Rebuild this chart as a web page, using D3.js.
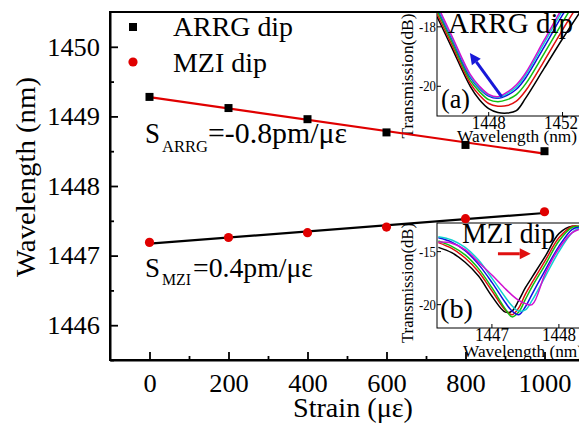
<!DOCTYPE html>
<html>
<head>
<meta charset="utf-8">
<script src="https://cdn.jsdelivr.net/npm/d3@7"></script>
</head>
<body style="margin:0;padding:0;background:#fff">
<svg id="chart" width="579" height="423" style="display:block"></svg>
<script>
// ---------- main data ----------
const strain = [0, 200, 400, 600, 800, 1000];
const arrgDip = [1449.28, 1449.12, 1448.96, 1448.77, 1448.59, 1448.50];
const mziDip  = [1447.19, 1447.26, 1447.33, 1447.41, 1447.53, 1447.63];
const xTickValues = [0, 200, 400, 600, 800, 1000];
const xMinorValues = [100, 300, 500, 700, 900];
const yTickValues = [1446, 1447, 1448, 1449, 1450];
const yMinorValues = [1445.5, 1446.5, 1447.5, 1448.5, 1449.5];
const seriesNames = ["ARRG dip", "MZI dip"];

// ---------- inset (a): ARRG dip spectra ----------
const waveA = [1445.2, 1446, 1447, 1447.5, 1448, 1448.5, 1449, 1449.5, 1450, 1451, 1452, 1453];
const arrgBlack   = [-17.65, -18.7, -20.0, -20.45, -20.75, -20.88, -20.9, -20.82, -20.4, -19.4, -18.4, -17.45];
const arrgRed     = [-17.55, -18.6, -19.9, -20.3, -20.58, -20.67, -20.65, -20.5, -20.15, -19.15, -18.1, -17.1];
const arrgGreen   = [-17.45, -18.5, -19.8, -20.18, -20.45, -20.52, -20.45, -20.28, -19.92, -18.9, -17.85, -16.8];
const arrgBlue    = [-17.35, -18.4, -19.7, -20.08, -20.33, -20.4, -20.3, -20.1, -19.72, -18.68, -17.6, -16.6];
const arrgCyan    = [-17.3, -18.35, -19.65, -20.05, -20.3, -20.38, -20.25, -20.02, -19.62, -18.55, -17.45, -16.4];
const arrgMagenta = [-17.25, -18.3, -19.6, -20.0, -20.27, -20.35, -20.2, -19.95, -19.55, -18.45, -17.35, -16.3];
const insetAXTicks = [1448, 1452];
const insetAYTicks = [-18, -20];

// ---------- inset (b): MZI dip spectra ----------
const waveB = [1446.2, 1446.4, 1446.6, 1446.8, 1447.0, 1447.2, 1447.3, 1447.4, 1447.5, 1447.6, 1447.8, 1448.0, 1448.2, 1448.3];
const mziBlack   = [-14.6, -15.1, -16.0, -17.3, -19.2, -20.7, -20.6, -19.6, -18.4, -17.4, -15.4, -13.3, -12.6, -12.8];
const mziRed     = [-14.15, -14.7, -15.6, -16.9, -18.7, -20.5, -20.95, -20.3, -19.0, -17.9, -15.8, -13.7, -12.6, -12.6];
const mziGreen   = [-14.0, -14.5, -15.3, -16.6, -18.4, -20.4, -21.15, -20.7, -19.5, -18.3, -16.2, -14.0, -12.7, -12.6];
const mziBlue    = [-13.7, -14.1, -14.9, -16.2, -17.9, -19.8, -20.6, -20.95, -20.2, -19.0, -16.7, -14.5, -12.9, -12.7];
const mziCyan    = [-13.6, -13.9, -14.6, -15.8, -17.5, -19.3, -20.1, -20.6, -20.5, -19.6, -17.3, -15.0, -13.2, -12.8];
const mziMagenta = [-14.1, -14.2, -14.8, -16.0, -17.2, -18.5, -19.1, -19.6, -19.9, -20.0, -17.0, -14.7, -13.2, -12.9];
const insetBXTicks = [1447, 1448];
const insetBYTicks = [-15, -20];

const curveColors = ["#000000", "#e01010", "#10c010", "#1010e0", "#10d0d0", "#d010d0"];
const FONT = '"Liberation Serif", "Times New Roman", Tinos';

// ---------- setup ----------
const svg = d3.select("#chart").style("font-family", FONT);
const margin = { left: 110, top: 12, right: 584, bottom: 360 };
const x = d3.scaleLinear().domain([-100, 1100]).range([margin.left, margin.right]);
const y = d3.scaleLinear().domain([1445.5, 1450.5]).range([margin.bottom, margin.top]);

function txt(parent, tx, ty, str, size, len, anchor) {
  const t = parent.append("text").attr("x", tx).attr("y", ty)
    .style("font-family", FONT).attr("font-size", size).attr("fill", "#000").text(str);
  if (anchor) t.attr("text-anchor", anchor);
  if (len) t.attr("textLength", len).attr("lengthAdjust", "spacingAndGlyphs");
  return t;
}

// ---------- insets ----------
function drawInset(cfg) {
  const g = svg.append("g");
  const ix = d3.scaleLinear().domain(cfg.xDomain).range([cfg.x0, cfg.x1]);
  const iy = d3.scaleLinear().domain(cfg.yDomain).range([cfg.y1, cfg.y0]);
  const clipId = "clip-" + cfg.id;
  svg.append("clipPath").attr("id", clipId)
    .append("rect").attr("x", cfg.x0).attr("y", cfg.y0)
    .attr("width", cfg.x1 - cfg.x0).attr("height", cfg.y1 - cfg.y0);
  g.append("rect").attr("x", cfg.x0).attr("y", cfg.y0)
    .attr("width", cfg.x1 - cfg.x0 + 10).attr("height", cfg.y1 - cfg.y0)
    .attr("fill", "#fff").attr("stroke", "#000").attr("stroke-width", 1);

  const line = d3.line().x(d => ix(d[0])).y(d => iy(d[1])).curve(d3.curveCatmullRom.alpha(0.5));
  const cg = g.append("g").attr("clip-path", `url(#${clipId})`);
  cfg.series.forEach((vals, i) => {
    cg.append("path")
      .datum(cfg.wave.map((w, j) => [w, vals[j]]))
      .attr("d", line).attr("fill", "none")
      .attr("stroke", curveColors[i]).attr("stroke-width", 1.5);
  });

  cfg.xTicks.forEach(t => {
    g.append("line").attr("x1", ix(t)).attr("x2", ix(t)).attr("y1", cfg.y1).attr("y2", cfg.y1 - 4)
      .attr("stroke", "#000").attr("stroke-width", 1);
    txt(g, Math.min(ix(t), 561), cfg.y1 + 13, t, 18, 34, "middle");
  });
  cfg.yTicks.forEach(t => {
    g.append("line").attr("x1", cfg.x0).attr("x2", cfg.x0 + 4).attr("y1", iy(t)).attr("y2", iy(t))
      .attr("stroke", "#000").attr("stroke-width", 1);
    txt(g, cfg.x0 - 1, iy(t) + 5, t, 15, 17, "end");
  });
  txt(g, cfg.xLabelX, cfg.xLabelY, "Wavelength (nm)", 17.5, 120);
  txt(g, 0, 0, "Transmission(dB)", 17.5, cfg.yLabelLen, "middle")
    .attr("transform", `translate(${cfg.yLabelX},${cfg.yLabelY}) rotate(-90)`);
  txt(g, cfg.titleX, cfg.titleY, cfg.title, 28.5, cfg.titleLen);
  txt(g, cfg.tagX, cfg.tagY, cfg.tag, 27, cfg.tagLen);

  const a = cfg.arrow;
  const x1 = ix(a.from[0]), y1 = iy(a.from[1]), x2 = ix(a.to[0]), y2 = iy(a.to[1]);
  const ang = Math.atan2(y2 - y1, x2 - x1);
  const hl = 11, hw = 5.5;
  const bx = x2 - hl * Math.cos(ang), by = y2 - hl * Math.sin(ang);
  g.append("line").attr("x1", x1).attr("y1", y1).attr("x2", bx).attr("y2", by)
    .attr("stroke", a.color).attr("stroke-width", 3);
  g.append("path").attr("d", `M${x2},${y2} L${bx - hw * Math.sin(ang)},${by + hw * Math.cos(ang)} L${bx + hw * Math.sin(ang)},${by - hw * Math.cos(ang)} Z`)
    .attr("fill", a.color);
}

drawInset({
  id: "a", x0: 437, x1: 581, y0: 12, y1: 116,
  xDomain: [1445.2, 1453], yDomain: [-21, -17.5],
  wave: waveA, series: [arrgBlack, arrgRed, arrgGreen, arrgBlue, arrgCyan, arrgMagenta],
  xTicks: insetAXTicks, yTicks: insetAYTicks,
  xLabelX: 457, xLabelY: 142, yLabelX: 413, yLabelY: 76, yLabelLen: 125,
  title: "ARRG dip", titleX: 448, titleY: 33, titleLen: 125,
  tag: "(a)", tagX: 441, tagY: 108, tagLen: 29,
  arrow: { from: [1448.71, -20.36], to: [1446.98, -18.88], color: "#1818d8" }
});

drawInset({
  id: "b", x0: 437, x1: 581, y0: 223, y1: 328,
  xDomain: [1446.18, 1448.33], yDomain: [-22.2, -12.3],
  wave: waveB, series: [mziBlack, mziRed, mziGreen, mziBlue, mziCyan, mziMagenta],
  xTicks: insetBXTicks, yTicks: insetBYTicks,
  xLabelX: 463, xLabelY: 357, yLabelX: 413, yLabelY: 283, yLabelLen: 120,
  title: "MZI dip", titleX: 462, titleY: 243, titleLen: 93,
  tag: "(b)", tagX: 440, tagY: 318, tagLen: 33,
  arrow: { from: [1447.09, -15.2], to: [1447.58, -15.2], color: "#e01010" }
});

// ---------- main axes ----------
svg.append("rect").attr("x", margin.left).attr("y", margin.top)
  .attr("width", margin.right - margin.left).attr("height", margin.bottom - margin.top)
  .attr("fill", "none").attr("stroke", "#000").attr("stroke-width", 2);

function styleAxis(g) {
  g.attr("font-family", null).style("font-family", FONT);
  g.selectAll("path.domain").attr("stroke-width", 2);
  g.selectAll(".tick line").attr("stroke-width", 1.8);
  g.selectAll("text").style("font-family", FONT).attr("font-size", 26).attr("fill", "#000")
    .attr("lengthAdjust", "spacingAndGlyphs")
    .attr("textLength", d => String(d).length * 13.2);
}

const xAxisG = svg.append("g").attr("transform", `translate(0,${margin.bottom})`)
  .call(d3.axisBottom(x).tickValues(xTickValues).tickSizeInner(-8).tickSizeOuter(0).tickPadding(10).tickFormat(d3.format("d")));
styleAxis(xAxisG);
xAxisG.selectAll("text").attr("dy", "0").attr("y", 32);
svg.append("g").attr("transform", `translate(0,${margin.bottom})`)
  .call(d3.axisBottom(x).tickValues(xMinorValues).tickSizeInner(-4).tickSizeOuter(0).tickFormat(""))
  .call(g => { g.select("path.domain").remove(); g.selectAll(".tick line").attr("stroke-width", 1.8); });

const yAxisG = svg.append("g").attr("transform", `translate(${margin.left},0)`)
  .call(d3.axisLeft(y).tickValues(yTickValues).tickSizeInner(-8).tickSizeOuter(0).tickPadding(10).tickFormat(d3.format("d")));
styleAxis(yAxisG);
svg.append("g").attr("transform", `translate(${margin.left},0)`)
  .call(d3.axisLeft(y).tickValues(yMinorValues).tickSizeInner(-4).tickSizeOuter(0).tickFormat(""))
  .call(g => { g.select("path.domain").remove(); g.selectAll(".tick line").attr("stroke-width", 1.8); });

// axis titles
txt(svg, 353, 417, "Strain (με)", 28, 120, "middle");
txt(svg, 0, 0, "Wavelength (nm)", 28, 200, "middle").attr("transform", "translate(35,177) rotate(-90)");

// ---------- fits ----------
function linFit(xs, ys) {
  const mx = d3.mean(xs), my = d3.mean(ys);
  const b = d3.sum(xs, (v, i) => (v - mx) * (ys[i] - my)) / d3.sum(xs, v => (v - mx) * (v - mx));
  return { slope: b, intercept: my - b * mx };
}
const fitA = linFit(strain, arrgDip);
const fitM = linFit(strain, mziDip);
const xs = d3.extent(strain);
svg.append("line").attr("x1", x(xs[0])).attr("x2", x(xs[1]))
  .attr("y1", y(fitA.intercept + fitA.slope * xs[0])).attr("y2", y(fitA.intercept + fitA.slope * xs[1]))
  .attr("stroke", "#e00000").attr("stroke-width", 2.2);
svg.append("line").attr("x1", x(xs[0])).attr("x2", x(xs[1]))
  .attr("y1", y(fitM.intercept + fitM.slope * xs[0])).attr("y2", y(fitM.intercept + fitM.slope * xs[1]))
  .attr("stroke", "#000").attr("stroke-width", 2.2);

// ---------- points ----------
svg.append("g").selectAll("rect").data(strain).join("rect")
  .attr("x", (d) => x(d) - 4).attr("y", (d, i) => y(arrgDip[i]) - 4)
  .attr("width", 8).attr("height", 8).attr("fill", "#000");
svg.append("g").selectAll("circle").data(strain).join("circle")
  .attr("cx", d => x(d)).attr("cy", (d, i) => y(mziDip[i])).attr("r", 4.6).attr("fill", "#e00000");

// ---------- legend ----------
svg.append("rect").attr("x", 129).attr("y", 23).attr("width", 8).attr("height", 8).attr("fill", "#000");
txt(svg, 173, 36, seriesNames[0], 27.5, 120);
svg.append("circle").attr("cx", 133).attr("cy", 62).attr("r", 4.6).attr("fill", "#e00000");
txt(svg, 173, 72, seriesNames[1], 27.5, 94);

// ---------- annotations ----------
txt(svg, 145, 143, "S", 29, 15);
txt(svg, 162, 152, "ARRG", 17, 46);
txt(svg, 208, 143, "=-0.8pm/με", 29, 139);

txt(svg, 145, 277, "S", 28, 15);
txt(svg, 162, 285, "MZI", 16, 29);
txt(svg, 193, 277, "=0.4pm/με", 28, 120);
</script>
</body>
</html>
